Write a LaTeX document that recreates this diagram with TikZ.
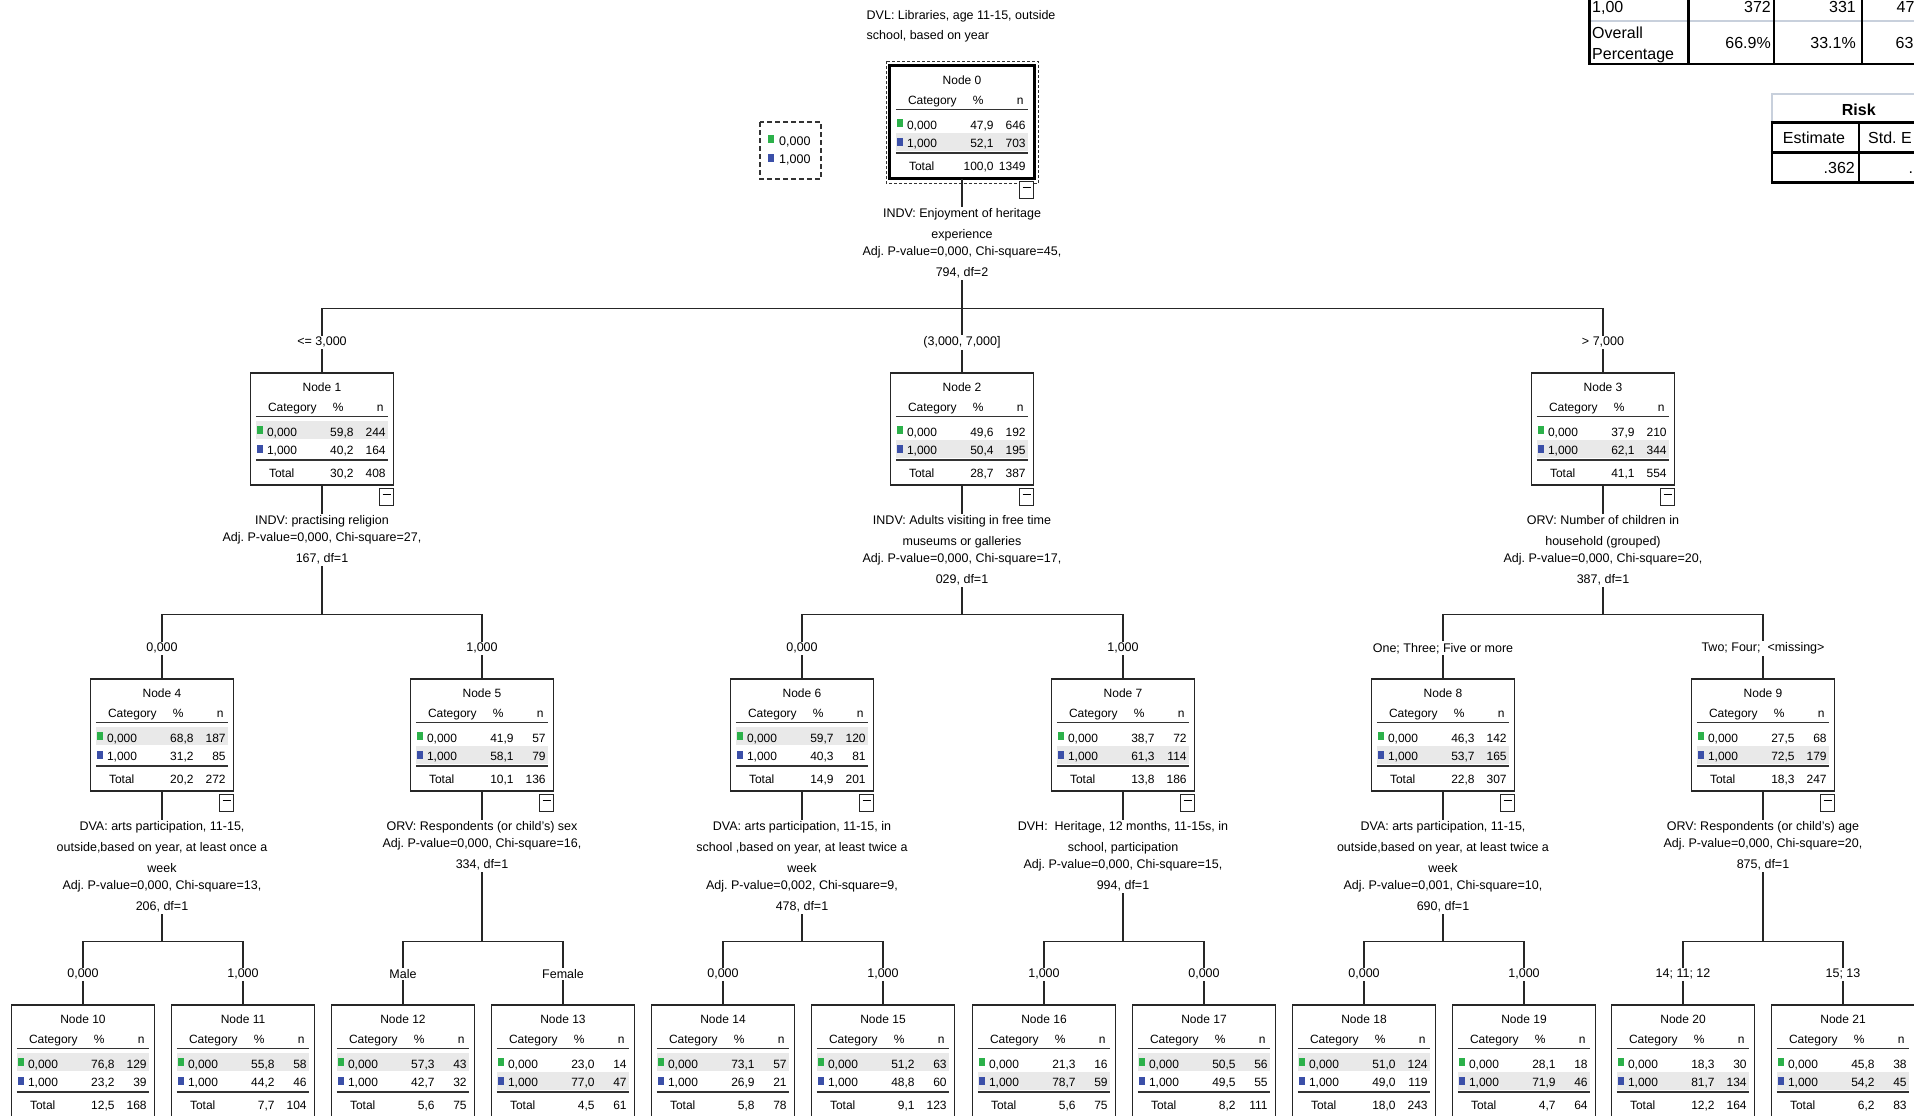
\documentclass[tikz,border=0pt]{standalone}
\usepackage{fontspec}
\setmainfont{Liberation Sans}
\usetikzlibrary{calc,positioning}
\frenchspacing

\definecolor{catgreen}{RGB}{44,177,74}
\definecolor{catblue}{RGB}{59,79,168}
\definecolor{rowgray}{RGB}{233,233,233}
\definecolor{gridlight}{RGB}{200,208,220}

% one tree node: id, position, predicted row, row 0,000 (%, n), row 1,000 (%, n), total (%, n)
\newcommand{\treebox}[9]{%
    \node[treenode] (n#1) at #2 {};
    \fill[rowgray] ($(n#1.north west)+(6,{-30-19*#3})$) rectangle ++(132,-18);
    \node[cell,anchor=base] (n#1-title) at ($(n#1.north)+(0,-19)$) {Node #1};
    \node[cell,anchor=base west] (n#1-cat) at ($(n#1.north west)+(18,-39.5)$) {Category};
    \node[cell,anchor=base] (n#1-pct) at ($(n#1.north west)+(88.5,-39.5)$) {\%};
    \node[cell,anchor=base east] (n#1-n) at ($(n#1.north west)+(134,-39.5)$) {n};
    \draw[rule] ($(n#1.north west)+(6,-44)$) -- ++(132,0);
    \fill[catgreen] ($(n#1.north west)+(7,-54)$) rectangle ++(6,-8);
    \fill[catblue] ($(n#1.north west)+(7,-73)$) rectangle ++(6,-8);
    \node[cell,anchor=base west] (n#1-a) at ($(n#1.north west)+(17,-64)$) {0,000};
    \node[cell,anchor=base east] (n#1-ap) at ($(n#1.north west)+(104,-64)$) {#4};
    \node[cell,anchor=base east] (n#1-an) at ($(n#1.north west)+(136,-64)$) {#5};
    \node[cell,anchor=base west] (n#1-b) at ($(n#1.north west)+(17,-82.5)$) {1,000};
    \node[cell,anchor=base east] (n#1-bp) at ($(n#1.north west)+(104,-82.5)$) {#6};
    \node[cell,anchor=base east] (n#1-bn) at ($(n#1.north west)+(136,-82.5)$) {#7};
    \draw[rule,line width=2.2pt] ($(n#1.north west)+(6,-87.5)$) -- ++(132,0);
    \node[cell,anchor=base west] (n#1-t) at ($(n#1.north west)+(19,-105.5)$) {Total};
    \node[cell,anchor=base east] (n#1-tp) at ($(n#1.north west)+(104,-105.5)$) {#8};
    \node[cell,anchor=base east] (n#1-tn) at ($(n#1.north west)+(136,-105.5)$) {#9};
}

% the small collapse box under a split node
\newcommand{\collapse}[1]{%
    \node[minusbox,anchor=north east] (m#1) at ($(n#1.south east)+(0,-2)$) {};
    \draw[line width=1pt] ($(m#1.north)+(-4,-6.5)$) -- ($(m#1.north)+(4,-6.5)$);
}

\begin{document}
\begin{tikzpicture}
    [x=1pt,y=1pt,
    treenode/.style={
        draw=black!85,
        fill=white,
        line width=1.4pt,
        minimum width=143pt,
        minimum height=112pt,
        inner sep=0pt
    },
    cell/.style={inner sep=0pt,font=\fontsize{12}{14}\selectfont},
    rule/.style={draw=black!80,line width=1.4pt},
    minusbox/.style={draw=black!85,fill=white,line width=1pt,minimum width=14pt,minimum height=17pt,inner sep=0pt},
    link/.style={draw=black!85,line width=1.3pt},
    desc/.style={fill=white,inner sep=1.5pt,align=center,font=\fontsize{12.5}{17.5}\selectfont},
    branch/.style={fill=white,inner sep=1.5pt,font=\fontsize{12.5}{14}\selectfont},
    caption/.style={inner sep=0pt,font=\fontsize{12.5}{14}\selectfont},
    tabtext/.style={inner sep=0pt,font=\fontsize{16}{18}\selectfont}]

    \useasboundingbox (0,0) rectangle (1914,-1116);
    \clip (0,0) rectangle (1914,-1116);

    %%% content
    \node[caption,anchor=base west] (dvl-a) at (866.5,-19.5) {DVL: Libraries, age 11-15, outside};
    \node[caption,anchor=base west] (dvl-b) at (866.5,-39.5) {school, based on year};

    % legend
    \draw[dash pattern=on 5pt off 3pt,line width=1.1pt,black!80] (760,-122) rectangle (821,-179);
    \fill[catgreen] (768,-135) rectangle ++(6,-8);
    \fill[catblue] (768,-154) rectangle ++(6,-8);
    \node[caption,anchor=base west] (lg0) at (779,-145.5) {0,000};
    \node[caption,anchor=base west] (lg1) at (779,-163.5) {1,000};

    % root
    \treebox{0}{(962,-122)}{2}{47,9}{646}{52,1}{703}{100,0}{1349}
    \draw[line width=3pt,black] (n0.north west) rectangle (n0.south east);
    \draw[dash pattern=on 3pt off 2pt,line width=1pt,black!80] ($(n0.north west)+(-3.5,4)$) rectangle ($(n0.south east)+(4,-5)$);

    % first level
    \treebox{1}{(322,-429)}{1}{59,8}{244}{40,2}{164}{30,2}{408}
    \treebox{2}{(962,-429)}{2}{49,6}{192}{50,4}{195}{28,7}{387}
    \treebox{3}{(1603,-429)}{2}{37,9}{210}{62,1}{344}{41,1}{554}

    % second level
    \treebox{4}{(162,-735)}{1}{68,8}{187}{31,2}{85}{20,2}{272}
    \treebox{5}{(482,-735)}{2}{41,9}{57}{58,1}{79}{10,1}{136}
    \treebox{6}{(802,-735)}{1}{59,7}{120}{40,3}{81}{14,9}{201}
    \treebox{7}{(1123,-735)}{2}{38,7}{72}{61,3}{114}{13,8}{186}
    \treebox{8}{(1443,-735)}{2}{46,3}{142}{53,7}{165}{22,8}{307}
    \treebox{9}{(1763,-735)}{2}{27,5}{68}{72,5}{179}{18,3}{247}

    % leaves
    \treebox{10}{(83,-1061)}{1}{76,8}{129}{23,2}{39}{12,5}{168}
    \treebox{11}{(243,-1061)}{1}{55,8}{58}{44,2}{46}{7,7}{104}
    \treebox{12}{(403,-1061)}{1}{57,3}{43}{42,7}{32}{5,6}{75}
    \treebox{13}{(563,-1061)}{2}{23,0}{14}{77,0}{47}{4,5}{61}
    \treebox{14}{(723,-1061)}{1}{73,1}{57}{26,9}{21}{5,8}{78}
    \treebox{15}{(883,-1061)}{1}{51,2}{63}{48,8}{60}{9,1}{123}
    \treebox{16}{(1044,-1061)}{2}{21,3}{16}{78,7}{59}{5,6}{75}
    \treebox{17}{(1204,-1061)}{1}{50,5}{56}{49,5}{55}{8,2}{111}
    \treebox{18}{(1364,-1061)}{1}{51,0}{124}{49,0}{119}{18,0}{243}
    \treebox{19}{(1524,-1061)}{2}{28,1}{18}{71,9}{46}{4,7}{64}
    \treebox{20}{(1683,-1061)}{2}{18,3}{30}{81,7}{134}{12,2}{164}
    \treebox{21}{(1843,-1061)}{2}{45,8}{38}{54,2}{45}{6,2}{83}

    %% lines
    \foreach \p/\c/\d in {0/1/130,0/2/130,0/3/130,
                          1/4/129,1/5/129,2/6/129,2/7/129,3/8/129,3/9/129,
                          4/10/150,4/11/150,5/12/150,5/13/150,6/14/150,6/15/150,
                          7/16/150,7/17/150,8/18/150,8/19/150,9/20/150,9/21/150}
        \draw[link] (n\p.south) -- ++(0,-\d) -| (n\c.north);

    \foreach \p in {0,...,9} {\collapse{\p}}

    % split variables
    \node[desc,anchor=north] (d0) at ($(n0.south)+(0,-28)$) {INDV: Enjoyment of heritage\\[3.5pt]experience\\Adj. P-value=0,000, Chi-square=45,\\[3.5pt]794, df=2};
    \node[desc,anchor=north] (d1) at ($(n1.south)+(0,-28)$) {INDV: practising religion\\Adj. P-value=0,000, Chi-square=27,\\[3.5pt]167, df=1};
    \node[desc,anchor=north] (d2) at ($(n2.south)+(0,-28)$) {INDV: Adults visiting in free time\\[3.5pt]museums or galleries\\Adj. P-value=0,000, Chi-square=17,\\[3.5pt]029, df=1};
    \node[desc,anchor=north] (d3) at ($(n3.south)+(0,-28)$) {ORV: Number of children in\\[3.5pt]household (grouped)\\Adj. P-value=0,000, Chi-square=20,\\[3.5pt]387, df=1};
    \node[desc,anchor=north] (d4) at ($(n4.south)+(0,-28)$) {DVA: arts participation, 11-15,\\[3.5pt]outside,based on year, at least once a\\[3.5pt]week\\Adj. P-value=0,000, Chi-square=13,\\[3.5pt]206, df=1};
    \node[desc,anchor=north] (d5) at ($(n5.south)+(0,-28)$) {ORV: Respondents (or child's) sex\\Adj. P-value=0,000, Chi-square=16,\\[3.5pt]334, df=1};
    \node[desc,anchor=north] (d6) at ($(n6.south)+(0,-28)$) {DVA: arts participation, 11-15, in\\[3.5pt]school ,based on year, at least twice a\\[3.5pt]week\\Adj. P-value=0,002, Chi-square=9,\\[3.5pt]478, df=1};
    \node[desc,anchor=north] (d7) at ($(n7.south)+(0,-28)$) {DVH:~ Heritage, 12 months, 11-15s, in\\[3.5pt]school, participation\\Adj. P-value=0,000, Chi-square=15,\\[3.5pt]994, df=1};
    \node[desc,anchor=north] (d8) at ($(n8.south)+(0,-28)$) {DVA: arts participation, 11-15,\\[3.5pt]outside,based on year, at least twice a\\[3.5pt]week\\Adj. P-value=0,001, Chi-square=10,\\[3.5pt]690, df=1};
    \node[desc,anchor=north] (d9) at ($(n9.south)+(0,-28)$) {ORV: Respondents (or child's) age\\Adj. P-value=0,000, Chi-square=20,\\[3.5pt]875, df=1};

    % branch values
    \node[branch] (e1) at ($(n1.north)+(0,30)$) {<= 3,000};
    \node[branch] (e2) at ($(n2.north)+(0,30)$) {(3,000, 7,000]};
    \node[branch] (e3) at ($(n3.north)+(0,30)$) {> 7,000};
    \node[branch] (e4) at ($(n4.north)+(0,30)$) {0,000};
    \node[branch] (e5) at ($(n5.north)+(0,30)$) {1,000};
    \node[branch] (e6) at ($(n6.north)+(0,30)$) {0,000};
    \node[branch] (e7) at ($(n7.north)+(0,30)$) {1,000};
    \node[branch] (e8) at ($(n8.north)+(0,30)$) {One; Three; Five or more};
    \node[branch] (e9) at ($(n9.north)+(0,30)$) {Two; Four;~ <missing>};
    \node[branch] (e10) at ($(n10.north)+(0,30)$) {0,000};
    \node[branch] (e11) at ($(n11.north)+(0,30)$) {1,000};
    \node[branch] (e12) at ($(n12.north)+(0,30)$) {Male};
    \node[branch] (e13) at ($(n13.north)+(0,30)$) {Female};
    \node[branch] (e14) at ($(n14.north)+(0,30)$) {0,000};
    \node[branch] (e15) at ($(n15.north)+(0,30)$) {1,000};
    \node[branch] (e16) at ($(n16.north)+(0,30)$) {1,000};
    \node[branch] (e17) at ($(n17.north)+(0,30)$) {0,000};
    \node[branch] (e18) at ($(n18.north)+(0,30)$) {0,000};
    \node[branch] (e19) at ($(n19.north)+(0,30)$) {1,000};
    \node[branch] (e20) at ($(n20.north)+(0,30)$) {14; 11; 12};
    \node[branch] (e21) at ($(n21.north)+(0,30)$) {15; 13};

    % classification table (only its left part is in view)
    \draw[gridlight,line width=1.2pt] (1590,-21) -- (1914,-21);
    \draw[line width=2.3pt] (1589.5,2) -- (1589.5,-65);
    \draw[line width=3pt] (1688.5,2) -- (1688.5,-64);
    \draw[line width=1.2pt] (1774,2) -- (1774,-64);
    \draw[line width=1.2pt] (1862,2) -- (1862,-64);
    \draw[line width=2.5pt] (1588.5,-64) -- (1914,-64);
    \node[tabtext,anchor=base west] (cl-row) at (1592,-12.7) {1,00};
    \node[tabtext,anchor=base east] (cl-a) at (1771,-12.7) {372};
    \node[tabtext,anchor=base east] (cl-b) at (1856,-12.7) {331};
    \node[tabtext,anchor=base west] (cl-c) at (1896.5,-12.7) {47};
    \node[tabtext,anchor=base west] (cl-ov) at (1592,-38.5) {Overall};
    \node[tabtext,anchor=base west] (cl-pc) at (1592,-59.5) {Percentage};
    \node[tabtext,anchor=base east] (cl-d) at (1771,-48.5) {66.9\%};
    \node[tabtext,anchor=base east] (cl-e) at (1856,-48.5) {33.1\%};
    \node[tabtext,anchor=base west] (cl-f) at (1895.5,-48.5) {63};

    % risk table
    \draw[gridlight,line width=1.2pt] (1772,-122) |- (1914,-94);
    \draw[line width=3pt] (1770.5,-122) -- (1914,-122);
    \draw[line width=3pt] (1770.5,-152) -- (1914,-152);
    \draw[line width=3pt] (1770.5,-182) -- (1914,-182);
    \draw[line width=2.5pt] (1772,-122) -- (1772,-183.5);
    \draw[line width=2.5pt] (1859,-122) -- (1859,-182);
    \node[tabtext,anchor=base,font=\fontsize{16}{18}\selectfont\bfseries] (risk) at (1858.8,-115) {Risk};
    \node[tabtext,anchor=base] (rk-est) at (1814,-143.8) {Estimate};
    \node[tabtext,anchor=base west] (rk-se) at (1868,-143.8) {Std. E};
    \node[tabtext,anchor=base east] (rk-a) at (1855,-173.8) {.362};
    \node[tabtext,anchor=base west] (rk-b) at (1908.5,-173.8) {.};
\end{tikzpicture}
\end{document}
